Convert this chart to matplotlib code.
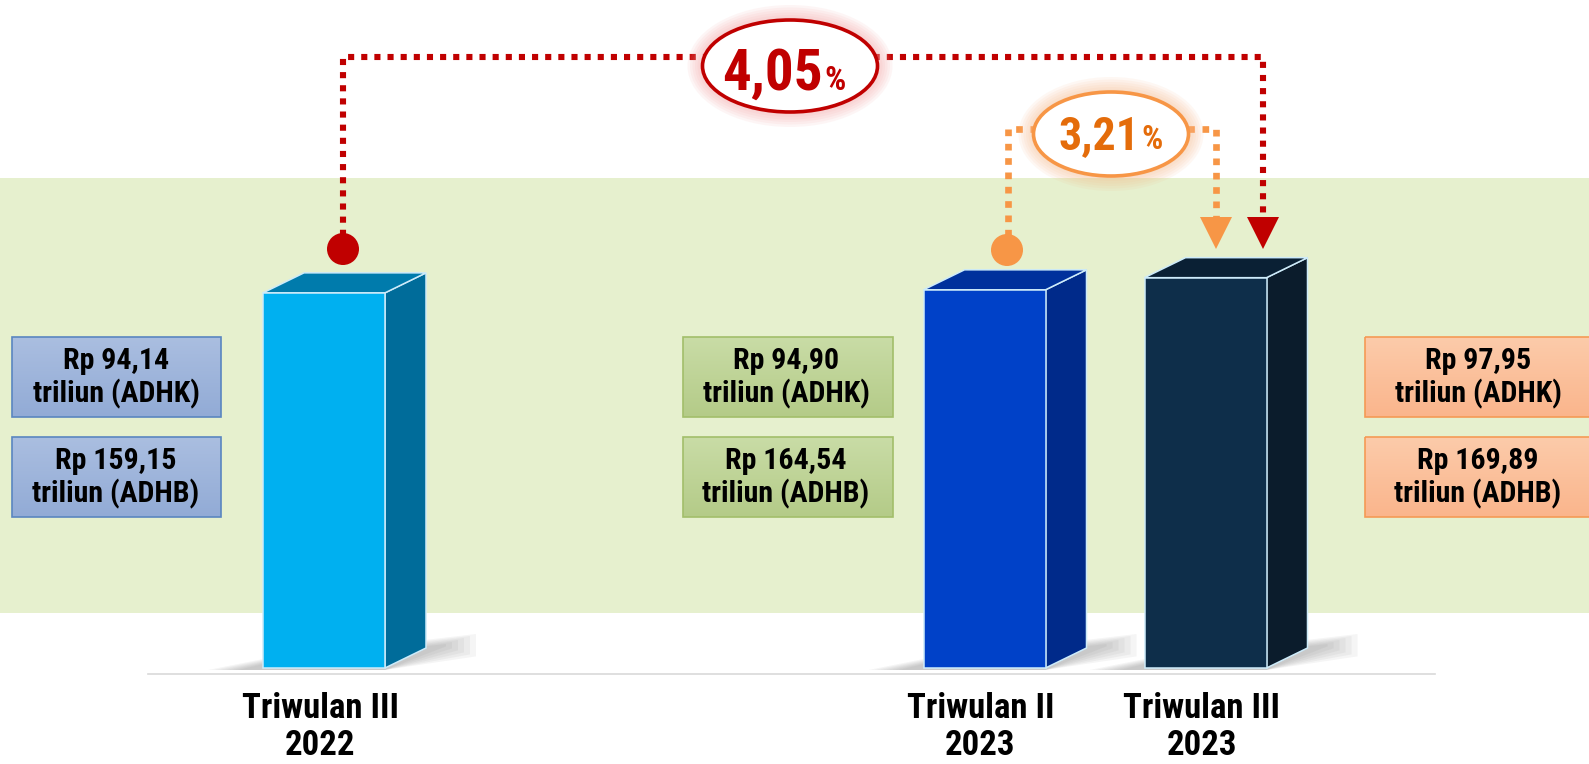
import matplotlib
matplotlib.use("Agg")
import matplotlib.pyplot as plt
import numpy as np
from matplotlib.patches import Polygon, Rectangle, Ellipse, Circle
from matplotlib.colors import LinearSegmentedColormap

# data
periods = ["Triwulan III\n2022", "Triwulan II\n2023", "Triwulan III\n2023"]
adhk = [94.14, 94.90, 97.95]      # triliun rupiah, harga konstan (bar height)
adhb = [159.15, 164.54, 169.89]   # triliun rupiah, harga berlaku
growth_qtq = 3.21
growth_yoy = 4.05

front_col = ["#00B0F0", "#0041C8", "#0E2E4A"]
top_col = ["#007BAC", "#00319C", "#0A2034"]
side_col = ["#006C9A", "#002A8A", "#0B1C2C"]
box_top = ["#AABEE0", "#C9DCA6", "#FCCBAA"]
box_bot = ["#92ABD6", "#B4CB88", "#FAB58C"]
box_edge = ["#5A86C0", "#A2BE6A", "#F59A55"]

W, H = 1589, 764
base_px = 668.0        # pixel row of the bars' bottom
px_per_unit = 3.985    # pixel per triliun

FONT = ["Roboto Condensed", "PT Sans Narrow", "DejaVu Sans"]

fig = plt.figure(figsize=(W / 100, H / 100), dpi=100)
fig.patch.set_facecolor("white")

# background layer in pixel coordinates
ax_bg = fig.add_axes([0, 0, 1, 1], zorder=0)
# bar layer in value units
ax = fig.add_axes([0, 0, 1, 1], zorder=1)
# foreground layer in pixel coordinates
ax_fg = fig.add_axes([0, 0, 1, 1], zorder=2)
for a in (ax_bg, ax, ax_fg):
    a.set_axis_off()
    a.patch.set_alpha(0)

ax_bg.add_patch(Rectangle((0, 178), W, 613 - 178, fc="#E6F0CE", ec="none"))
ax_bg.plot([148, 1435], [674, 674], color="#D9D9D9", lw=1.2)

centers = [324, 984.5, 1205.5]
bw = 122
dx = 41
dz = 20 / px_per_unit

# soft shadows on the ground
for c in centers:
    l, r = c - bw / 2, c + bw / 2
    for k in range(6):
        g = 6 + k * 5
        poly = [(l - 25 - k * 6, base_px + 2), (l, base_px - 4 - k),
                (r + dx + 20 + k * 6, base_px - 24 - k * 2),
                (r + dx + 20 + k * 6, base_px - 24 + g * 0.4), (r, base_px + 2)]
        ax_bg.add_patch(Polygon(poly, closed=True, fc="#404040", ec="none", alpha=0.05))

# 3d bars
edge = "#CDEBFA"
ax.bar(centers, adhk, width=bw, color=front_col, edgecolor=edge, linewidth=1.1, zorder=3)
for i, (c, v) in enumerate(zip(centers, adhk)):
    l, r = c - bw / 2, c + bw / 2
    top = [(l, v), (l + dx, v + dz), (r + dx, v + dz), (r, v)]
    side = [(r, 0), (r + dx, dz), (r + dx, v + dz), (r, v)]
    ax.add_patch(Polygon(side, closed=True, fc=side_col[i], ec=edge, lw=1.1, zorder=2))
    ax.add_patch(Polygon(top, closed=True, fc=top_col[i], ec=edge, lw=1.1, zorder=2))

ax.set_xlim(0, W)
ax.set_ylim(-(H - base_px) / px_per_unit, base_px / px_per_unit)

# category labels
for c, lab in zip(centers, periods):
    ax_fg.text(c - 4, 727, lab, ha="center", va="center", fontsize=25,
               fontweight="bold", family=FONT, linespacing=1.15, color="black")

# value boxes
def gbox(x0, y0, w, h, ct, cb, ec, txt, tx):
    cmap = LinearSegmentedColormap.from_list("g", [ct, cb])
    grad = np.linspace(0, 1, 64)[:, None]
    ax_fg.imshow(grad, extent=(x0, x0 + w, y0 + h, y0), cmap=cmap, aspect="auto",
                 zorder=3, interpolation="bilinear")
    ax_fg.add_patch(Rectangle((x0, y0), w, h, fill=False, ec=ec, lw=1.2, zorder=4))
    ax_fg.text(tx, y0 + h / 2 + 1, txt, ha="center", va="center", fontsize=21.5,
               fontweight="bold", family=FONT, linespacing=1.15, zorder=5)

def fmt(v):
    return f"{v:.2f}".replace(".", ",")

box_x = [(12, 209), (683, 210), (1365, 240)]
text_x = [116, 786, 1478]
for i in range(3):
    x0, w = box_x[i]
    gbox(x0, 337, w, 80, box_top[i], box_bot[i], box_edge[i],
         f"Rp {fmt(adhk[i])}\ntriliun (ADHK)", text_x[i])
    gbox(x0, 437, w, 80, box_top[i], box_bot[i], box_edge[i],
         f"Rp {fmt(adhb[i])}\ntriliun (ADHB)", text_x[i])

# connectors
red = "#C00000"
orange = "#F79646"
dots = (0, (1, 1.15))
ax_fg.plot([343, 343, 1263, 1263], [249, 57, 57, 218], color=red, lw=4.4,
           linestyle=dots, solid_capstyle="butt", dash_capstyle="butt", zorder=6)
ax_fg.add_patch(Circle((343, 249), 16, fc=red, ec="none", zorder=7))
ax_fg.add_patch(Polygon([(1247, 217), (1279, 217), (1263, 249)], fc=red, ec="none", zorder=7))

ax_fg.plot([1008, 1008, 1216, 1216], [236, 129, 129, 218], color=orange, lw=4.8,
           linestyle=dots, dash_capstyle="butt", zorder=6)
ax_fg.add_patch(Circle((1007, 250), 16, fc=orange, ec="none", zorder=7))
ax_fg.add_patch(Polygon([(1200, 217), (1232, 217), (1216, 249)], fc=orange, ec="none", zorder=7))

def pct_bubble(cx, cy, w, h, glow, ec, tc, value, fs, split, base):
    for k in range(6, 0, -1):
        ax_fg.add_patch(Ellipse((cx, cy), w + k * 5, h + k * 5, fc=glow, ec="none",
                                alpha=0.10, zorder=8))
    ax_fg.add_patch(Ellipse((cx, cy), w, h, fc="white", ec=ec, lw=2.6, zorder=9))
    ax_fg.text(split, base, f"{value:.2f}".replace(".", ","), ha="right", va="baseline",
               fontsize=fs, fontweight="bold", family=FONT, color=tc, zorder=10)
    ax_fg.text(split + 1, base, "%", ha="left", va="baseline", fontsize=24,
               fontweight="bold", family=FONT, color=tc, zorder=10)

pct_bubble(790, 66, 175, 92, "#F4A0A0", red, red, growth_yoy, 41, 823, 90)
pct_bubble(1111, 134, 155, 84, "#F9B98A", orange, "#E46C0A", growth_qtq, 33, 1140, 149)

for a in (ax_bg, ax_fg):
    a.set_xlim(0, W)
    a.set_ylim(H, 0)

fig.savefig("out.png", dpi=100)
